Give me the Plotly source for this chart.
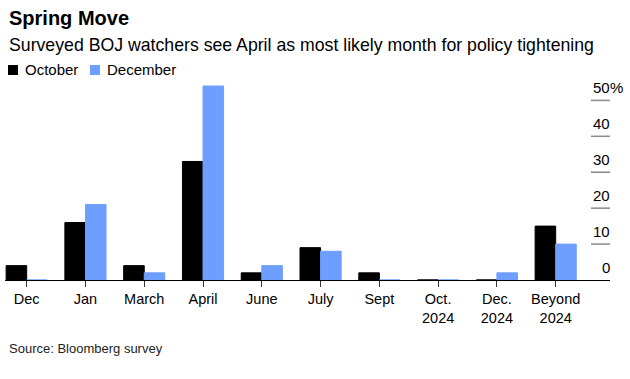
import plotly.graph_objects as go

# ---- data ----
categories = ["Dec", "Jan", "March", "April", "June", "July", "Sept",
              "Oct.<br>2024", "Dec.<br>2024", "Beyond<br>2024"]
series_names = ["October", "December"]
october = [4, 16, 4, 33, 2, 9, 2, 0, 0, 15]
december = [0, 21, 2, 54, 4, 8, 0, 0, 2, 10]
y_tick_vals = [0, 10, 20, 30, 40, 50]
y_tick_text = ["0", "10", "20", "30", "40", "50"]
y_unit = "%"

title = "Spring Move"
subtitle = "Surveyed BOJ watchers see April as most likely month for policy tightening"
source = "Source: Bloomberg survey"

colors = ["#000000", "#6e9eff"]
FONT = "Liberation Sans, Arial, sans-serif"

W, H = 630, 379
L, R, T, B = 5, 20, 83, 99
PW, PH = W - L - R, H - T - B


def px_x(px):
    return (px - L) / PW


def px_y(py):
    return (H - B - py) / PH


fig = go.Figure()
for name, vals, col in zip(series_names, [october, december], colors):
    fig.add_trace(go.Bar(
        x=categories, y=vals, name=name,
        marker=dict(color=col, line=dict(color=col, width=1)),
        showlegend=False,
    ))

annotations = []
shapes = []

# title / subtitle / source
annotations.append(dict(text="<b>%s</b>" % title, x=px_x(7), y=px_y(18), xref="paper", yref="paper",
                        xanchor="left", yanchor="middle", showarrow=False,
                        font=dict(family=FONT, size=20, color="#000")))
annotations.append(dict(text=subtitle, x=px_x(7), y=px_y(45), xref="paper", yref="paper",
                        xanchor="left", yanchor="middle", showarrow=False,
                        font=dict(family=FONT, size=17.7, color="#000")))
annotations.append(dict(text=source, x=px_x(7), y=px_y(348), xref="paper", yref="paper",
                        xanchor="left", yanchor="middle", showarrow=False,
                        font=dict(family=FONT, size=13, color="#222")))

# manual legend
leg_x = [8, 90]
for name, col, lx in zip(series_names, colors, leg_x):
    shapes.append(dict(type="rect", xref="paper", yref="paper",
                       x0=px_x(lx), x1=px_x(lx + 10), y0=px_y(75), y1=px_y(65),
                       fillcolor=col, line=dict(width=0)))
    annotations.append(dict(text=name, x=px_x(lx + 15), y=px_y(70), xref="paper", yref="paper",
                            xanchor="left", yanchor="middle", showarrow=False,
                            font=dict(family=FONT, size=15, color="#000")))

# right-side y ticks: short lines with labels above
for v, t in zip(y_tick_vals, y_tick_text):
    if v != 0:
        shapes.append(dict(type="line", xref="paper", yref="y",
                           x0=px_x(591), x1=1, y0=v, y1=v,
                           line=dict(color="#8a8a8a", width=1.5)))
    annotations.append(dict(text=t, x=1, y=v, xref="paper", yref="y",
                            xanchor="right", yanchor="middle", yshift=13, showarrow=False,
                            borderpad=0, borderwidth=0,
                            font=dict(family=FONT, size=15, color="#000")))
annotations.append(dict(text=y_unit, x=1, y=y_tick_vals[-1], xref="paper", yref="y",
                        xanchor="left", yanchor="middle", yshift=13, showarrow=False,
                        borderpad=0, borderwidth=0,
                        font=dict(family=FONT, size=15, color="#000")))

fig.update_layout(
    width=W, height=H,
    margin=dict(l=L, r=R, t=T, b=B, pad=0),
    paper_bgcolor="#fff", plot_bgcolor="#fff",
    barmode="group", bargap=0.30, bargroupgap=0,
    annotations=annotations, shapes=shapes,
    font=dict(family=FONT, color="#000"),
)
fig.update_xaxes(
    type="category", range=[-0.369, 9.924],
    showline=True, linecolor="#000", linewidth=1,
    ticks="outside", ticklen=6, tickcolor="#333", tickwidth=1,
    tickfont=dict(family=FONT, size=14.5, color="#000"),
    showgrid=False, layer="below traces", fixedrange=True,
)
fig.update_yaxes(
    range=[0, 54.84], showgrid=False, zeroline=False, showticklabels=False,
    ticks="", fixedrange=True,
)

fig.write_html(
    "out.html",
    config={"displayModeBar": False},
    post_script="document.body.style.margin='0';document.body.style.overflow='hidden';",
)
